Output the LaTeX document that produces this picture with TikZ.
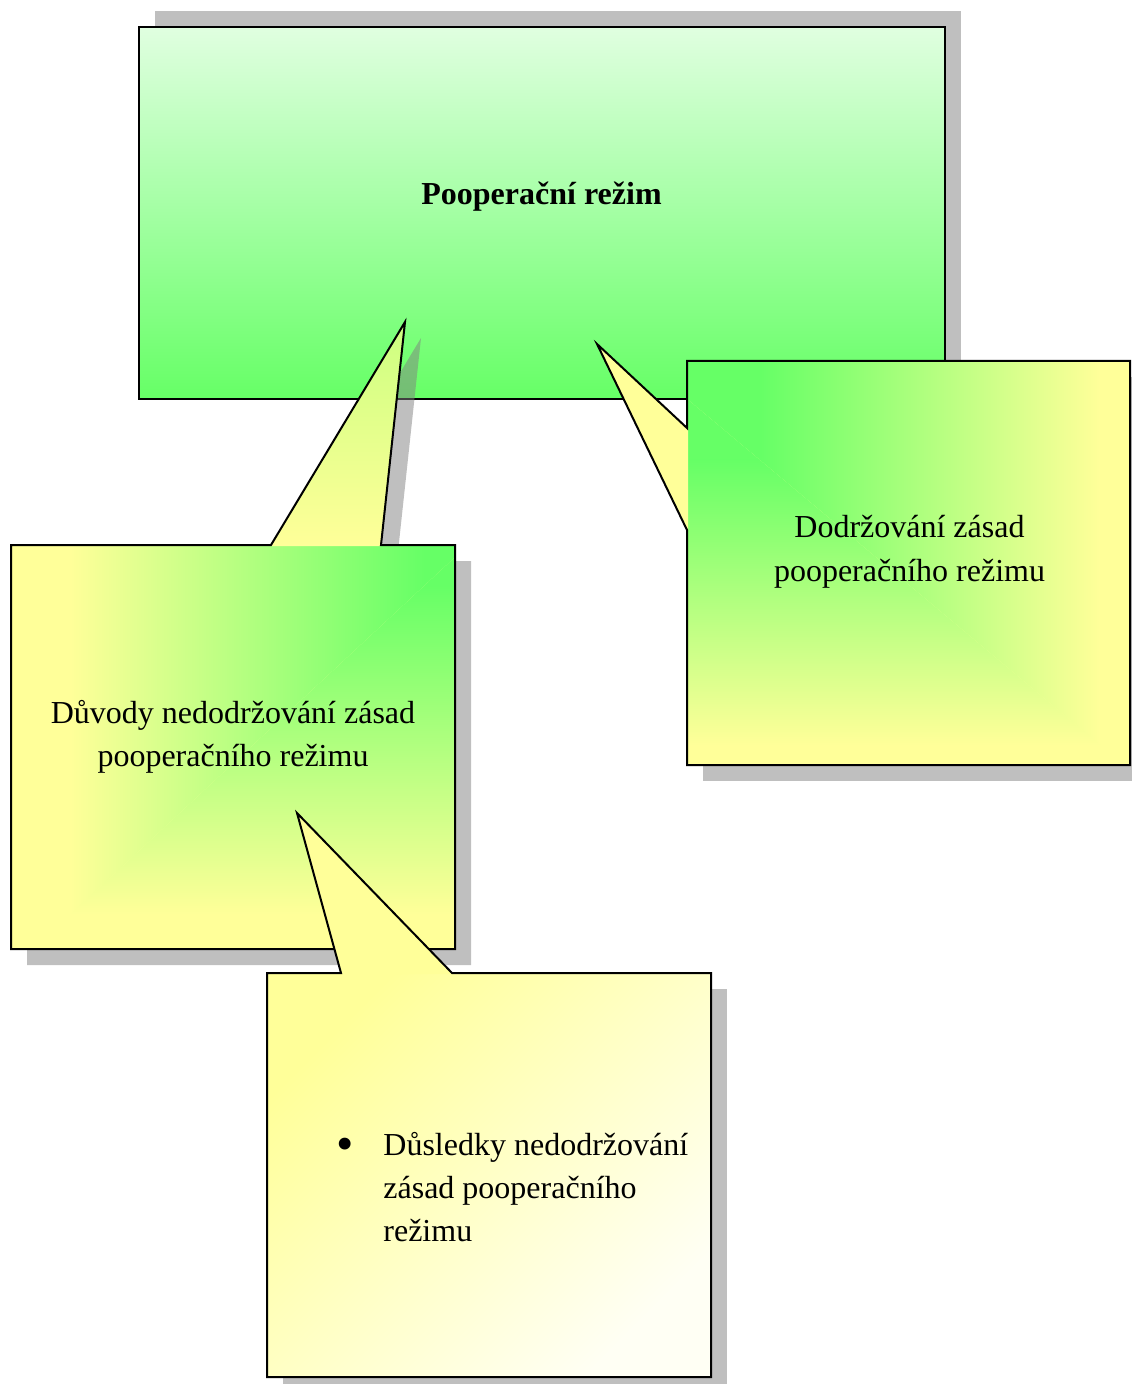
\documentclass[tikz,border=0pt]{standalone}
\usepackage{graphicx}
\usepackage{fontspec}
\setmainfont{Liberation Serif}
\definecolor{grn}{HTML}{66FF66}
\definecolor{ylw}{HTML}{FFFF99}
\definecolor{shadowgray}{HTML}{808080}
\definecolor{topgreen}{HTML}{E0FFE0}
\definecolor{midgreen}{HTML}{B8FFB8}
\definecolor{tipgreen}{HTML}{CCFF80}
\definecolor{paleyellow}{HTML}{FFFFF4}
\tikzset{
  outline/.style={draw=black, line width=1pt, line join=miter},
  shadowfill/.style={fill=shadowgray, fill opacity=0.5},
  txt/.style={inner sep=0pt, font=\fontsize{16}{21.5}\selectfont},
}
\begin{document}
\begin{tikzpicture}[x=0.5pt,y=-0.5pt]
\useasboundingbox (0,0) rectangle (1131,1384);

% ---- main box
\fill[shadowfill] (155,11) rectangle (961,383);
\shade[top color=topgreen, middle color=midgreen, bottom color=grn] (139,27) rectangle (945,399);
\draw[outline] (139,27) rectangle (945,399);
\node[txt, font=\fontsize{16}{21.5}\selectfont\bfseries, anchor=base] (title) at (541.5,205) {Pooperační režim};

% ---- right callout
\fill[shadowfill] (703,377) rectangle (1147,781);
\begin{scope}
  \clip (687,361) rectangle (1130,765);
  \fill[ylw] (687,361) rectangle (1130,765);
  \begin{scope}
    \clip (420,175) -- (1440,1030) -- (1440,175) -- cycle;
    \fill[grn] (600,300) rectangle (760,800);
    \shade[left color=grn, right color=ylw] (760,300) rectangle (1100,800);
  \end{scope}
  \begin{scope}
    \clip (420,175) -- (1440,1030) -- (420,1030) -- cycle;
    \fill[grn] (600,300) rectangle (1200,460);
    \shade[top color=grn, bottom color=ylw] (600,460) rectangle (1200,745);
  \end{scope}
\end{scope}
\fill[ylw] (688,428) -- (597,344) -- (688,530) -- cycle;
\draw[outline] (687,361) -- (1130,361) -- (1130,765) -- (687,765) -- (687,530) -- (597,344) -- (687,428) -- cycle;
\node[txt, anchor=base] (keep) at (909.5,538) {\begin{tabular}[t]{@{}c@{}}Dodržování zásad\\pooperačního režimu\end{tabular}};

% ---- left callout
\fill[shadowfill] (27,561) rectangle (471,965) (287,561) -- (421,338) -- (397,561) -- cycle;
\begin{scope}
  \clip (11,545) rectangle (455,949);
  \fill[ylw] (11,545) rectangle (455,949);
  \begin{scope}
    \clip (780,255) -- (-285,1245) -- (-285,255) -- cycle;
    \fill[grn] (425,500) rectangle (500,1000);
    \shade[left color=ylw, right color=grn] (70,500) rectangle (425,1000);
  \end{scope}
  \begin{scope}
    \clip (780,255) -- (-285,1245) -- (780,1245) -- cycle;
    \fill[grn] (0,500) rectangle (500,585);
    \shade[top color=grn, bottom color=ylw] (0,585) rectangle (500,915);
  \end{scope}
\end{scope}
\shade[top color=tipgreen, bottom color=ylw] (271,546) -- (405,322) -- (381,546) -- cycle;
\draw[outline] (11,545) -- (271,545) -- (405,322) -- (381,545) -- (455,545) -- (455,949) -- (11,949) -- cycle;
\node[txt, anchor=base] (reasons) at (233,723) {\begin{tabular}[t]{@{}c@{}}Důvody nedodržování zásad\\pooperačního režimu\end{tabular}};

% ---- bottom callout
\fill[shadowfill] (283,989) rectangle (727,1393);
\shade[top color=ylw, bottom color=paleyellow, shading angle=45] (267,973) rectangle (711,1377);
\fill[ylw] (341,974) -- (297,813) -- (452,974) -- cycle;
\draw[outline] (267,973) -- (341,973) -- (297,813) -- (452,973) -- (711,973) -- (711,1377) -- (267,1377) -- cycle;
\node[txt, anchor=base west] (consequences) at (336,1155) {\begin{tabular}[t]{@{}l@{}l@{}}\makebox[23.5pt][l]{\raisebox{-2.6pt}{\scalebox{1.55}{\textbullet}}} & Důsledky nedodržování\\ & zásad pooperačního\\ & režimu\end{tabular}};
\end{tikzpicture}
\end{document}
